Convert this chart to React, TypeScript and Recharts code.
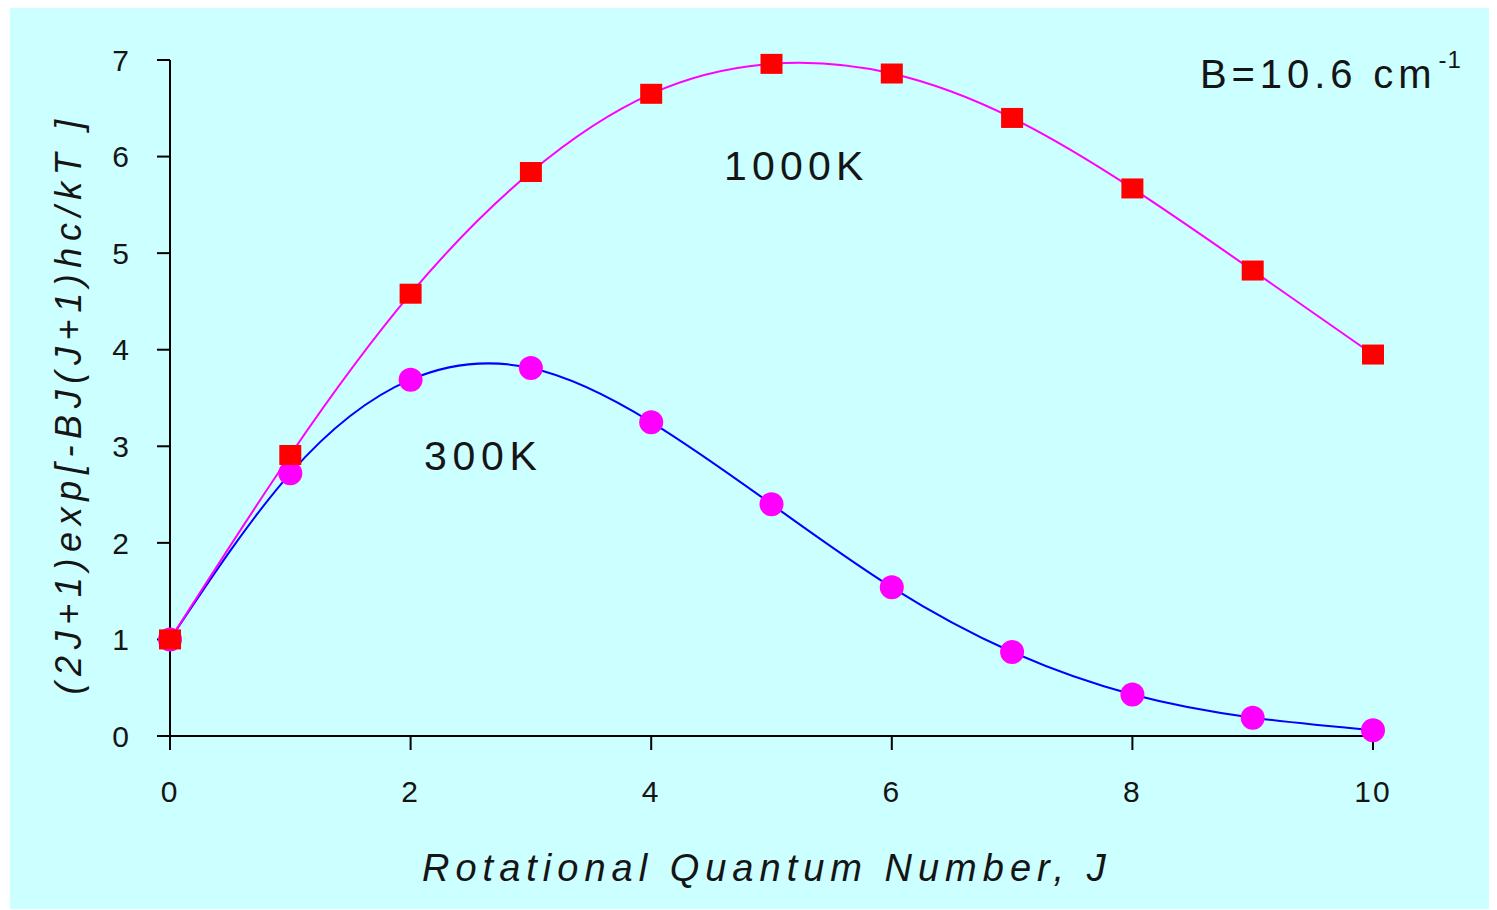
import React from "react";
import { Line, LineChart, XAxis, YAxis } from "recharts";

// Rotational level populations, (2J+1)exp[-BJ(J+1)hc/kT], B = 10.6 cm^-1
const levels = [0, 1, 2, 3, 4, 5, 6, 7, 8, 9, 10];
const pop300K = [1.0, 2.72, 3.69, 3.81, 3.25, 2.4, 1.54, 0.87, 0.43, 0.19, 0.06];
const pop1000K = [1.0, 2.91, 4.58, 5.84, 6.65, 6.96, 6.86, 6.4, 5.67, 4.82, 3.95];
const xTicks = [0, 2, 4, 6, 8, 10];
const yTicks = [0, 1, 2, 3, 4, 5, 6, 7];

const data = levels.map((j, i) => ({ j, t300: pop300K[i], t1000: pop1000K[i] }));

const FONT = "'Liberation Sans', Arial, sans-serif";
const INK = "#151515";

const SquareDot = (props: any) => {
  const { cx, cy } = props;
  if (cx == null || cy == null) return null;
  return <rect x={cx - 11} y={cy - 10} width={22} height={20} fill="#ff0000" />;
};

const RoundDot = (props: any) => {
  const { cx, cy } = props;
  if (cx == null || cy == null) return null;
  return <circle cx={cx} cy={cy} r={12} fill="#ff00ff" />;
};

const tickStyle = {
  fontSize: 30,
  fill: INK,
  fontFamily: FONT,
  style: { letterSpacing: 2 },
};

const textStyle: React.CSSProperties = {
  position: "absolute",
  fontFamily: FONT,
  color: INK,
  whiteSpace: "nowrap",
  lineHeight: 1,
};

export default function App() {
  return (
    <div
      style={{
        position: "relative",
        width: 1480,
        height: 901,
        marginLeft: 2,
        background: "#ccffff",
      }}
    >
      <LineChart
        width={1480}
        height={901}
        data={data}
        margin={{ top: 52, right: 117, bottom: 113, left: 0 }}
      >
        <XAxis
          dataKey="j"
          type="number"
          domain={[0, 10]}
          ticks={xTicks}
          stroke="#000"
          strokeWidth={2}
          tickSize={14}
          tickMargin={31}
          height={60}
          tick={tickStyle}
        />
        <YAxis
          type="number"
          domain={[0, 7]}
          ticks={yTicks}
          stroke="#000"
          strokeWidth={2}
          tickSize={13}
          tickMargin={26}
          width={160}
          tick={tickStyle}
        />
        <Line
          type="natural"
          dataKey="t300"
          stroke="#0000ff"
          strokeWidth={2}
          dot={<RoundDot />}
          activeDot={false}
          isAnimationActive={false}
        />
        <Line
          type="natural"
          dataKey="t1000"
          stroke="#ff00ff"
          strokeWidth={2}
          dot={<SquareDot />}
          activeDot={false}
          isAnimationActive={false}
        />
      </LineChart>

      <div style={{ ...textStyle, left: 1190, top: 46, fontSize: 40, letterSpacing: 4.9 }}>
        B=10.6 cm
        <span style={{ position: "relative", top: -20, fontSize: 24, marginLeft: 2, letterSpacing: 1 }}>
          -1
        </span>
      </div>
      <div style={{ ...textStyle, left: 714, top: 138, fontSize: 41, letterSpacing: 5.2 }}>1000K</div>
      <div style={{ ...textStyle, left: 414, top: 428, fontSize: 41, letterSpacing: 5.7 }}>300K</div>

      <div
        style={{
          ...textStyle,
          left: 412,
          top: 841,
          fontSize: 38,
          fontStyle: "italic",
          letterSpacing: 6,
        }}
      >
        Rotational Quantum Number, J
      </div>
      <div
        style={{
          ...textStyle,
          left: 59,
          top: 396,
          fontSize: 36,
          fontStyle: "italic",
          letterSpacing: 6.6,
          transform: "translate(-50%, -50%) rotate(-90deg)",
        }}
      >
        (2J+1)exp[-BJ(J+1)hc/kT ]
      </div>
    </div>
  );
}
